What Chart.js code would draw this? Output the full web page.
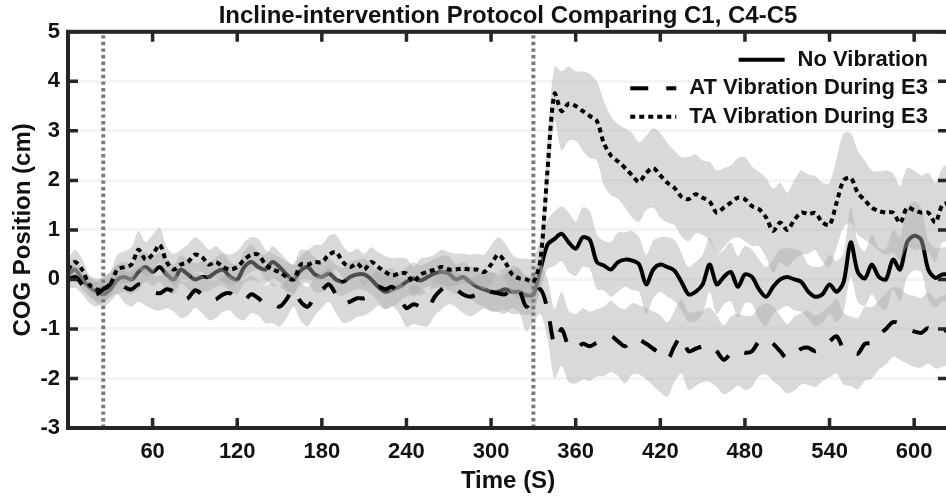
<!DOCTYPE html>
<html>
<head>
<meta charset="utf-8">
<script src="https://cdn.jsdelivr.net/npm/chart.js@4.4.1/dist/chart.umd.min.js"></script>
<style>
  html, body { margin: 0; padding: 0; background: #fff; overflow: hidden; }
  #wrap { width: 946px; height: 496px; overflow: hidden; }
</style>
</head>
<body>
<div id="wrap"><canvas id="cogChart" width="952" height="496"></canvas></div>
<script>
// sample times (s), one every 5 s
const times = [
  0, 5, 10, 15, 20, 25, 30, 35, 40, 45,
  50, 55, 60, 65, 70, 75, 80, 85, 90, 95,
  100, 105, 110, 115, 120, 125, 130, 135, 140, 145,
  150, 155, 160, 165, 170, 175, 180, 185, 190, 195,
  200, 205, 210, 215, 220, 225, 230, 235, 240, 245,
  250, 255, 260, 265, 270, 275, 280, 285, 290, 295,
  300, 305, 310, 315, 320, 325, 330, 335, 340, 345,
  350, 355, 360, 365, 370, 375, 380, 385, 390, 395,
  400, 405, 410, 415, 420, 425, 430, 435, 440, 445,
  450, 455, 460, 465, 470, 475, 480, 485, 490, 495,
  500, 505, 510, 515, 520, 525, 530, 535, 540, 545,
  550, 555, 560, 565, 570, 575, 580, 585, 590, 595,
  600, 605, 610, 615, 620, 625
];

// No Vibration (solid)
const noVibMean = [
  0.1, 0.2, 0.0, -0.15, -0.25, -0.3, -0.2, 0.0, 0.05, 0.0,
  0.15, 0.25, 0.15, 0.25, 0.1, 0.0, 0.2, 0.1, 0.0, 0.05,
  0.05, 0.15, 0.2, 0.05, 0.0, 0.25, 0.35, 0.25, 0.2, 0.35,
  0.25, 0.1, 0.0, 0.18, 0.25, 0.1, 0.05, 0.12, 0.0, -0.05,
  0.05, 0.1, 0.1, 0.0, -0.15, -0.25, -0.2, -0.15, -0.05, 0.02,
  -0.02, 0.05, 0.12, 0.15, 0.12, 0.0, 0.05, -0.05, -0.15, -0.2,
  -0.25, -0.25, -0.2, -0.25, -0.25, -0.32, -0.3, 0.2, 0.7, 0.82,
  0.92, 0.75, 0.62, 0.85, 0.8, 0.35, 0.28, 0.2, 0.35, 0.4,
  0.38, 0.3, -0.1, 0.2, 0.3, 0.25, 0.18, -0.05, -0.3, -0.25,
  -0.1, 0.3, -0.1, 0.05, 0.15, -0.15, 0.1, 0.05, -0.2, -0.35,
  -0.15, 0.0, 0.05, 0.0, -0.05, -0.25, -0.35, -0.3, -0.1, -0.25,
  -0.05, 0.75, 0.15, 0.02, 0.3, 0.05, 0.0, 0.4, 0.2, 0.75,
  0.88, 0.8, 0.2, 0.03, 0.1, 0.1
];
const noVibSem = [
  0.2, 0.22, 0.2, 0.2, 0.22, 0.25, 0.25, 0.3, 0.3, 0.3,
  0.35, 0.3, 0.28, 0.3, 0.32, 0.3, 0.28, 0.3, 0.32, 0.3,
  0.28, 0.3, 0.32, 0.3, 0.3, 0.32, 0.35, 0.3, 0.3, 0.32,
  0.3, 0.3, 0.28, 0.3, 0.32, 0.35, 0.3, 0.3, 0.3, 0.28,
  0.3, 0.3, 0.32, 0.3, 0.3, 0.35, 0.35, 0.3, 0.3, 0.32,
  0.3, 0.28, 0.3, 0.32, 0.35, 0.3, 0.3, 0.32, 0.35, 0.35,
  0.38, 0.4, 0.42, 0.45, 0.45, 0.4, 0.38, 0.4, 0.5, 0.55,
  0.55, 0.6, 0.55, 0.6, 0.58, 0.55, 0.5, 0.55, 0.6, 0.55,
  0.6, 0.55, 0.6, 0.58, 0.55, 0.6, 0.62, 0.58, 0.55, 0.6,
  0.6, 0.55, 0.6, 0.55, 0.6, 0.62, 0.58, 0.55, 0.6, 0.6,
  0.55, 0.6, 0.58, 0.62, 0.6, 0.55, 0.6, 0.58, 0.6, 0.62,
  0.6, 0.7, 0.6, 0.55, 0.6, 0.58, 0.62, 0.6, 0.65, 0.7,
  0.7, 0.65, 0.6, 0.6, 0.55, 0.55
];

// AT Vibration During E3 (dashed)
const atMean = [
  0.0, 0.05, -0.1, -0.25, -0.3, -0.2, -0.1, 0.0, -0.15, -0.2,
  -0.1, -0.15, -0.25, -0.28, -0.2, -0.25, -0.4, -0.38, -0.22, -0.3,
  -0.42, -0.4, -0.3, -0.28, -0.4, -0.42, -0.3, -0.38, -0.5, -0.48,
  -0.55, -0.4, -0.2, -0.45, -0.55, -0.35, -0.22, -0.1, -0.3, -0.48,
  -0.45, -0.38, -0.38, -0.3, -0.15, -0.2, -0.15, -0.35, -0.58, -0.5,
  -0.55, -0.6, -0.35, -0.2, -0.12, -0.2, -0.3, -0.35, -0.3, -0.2,
  -0.25, -0.28, -0.3, -0.15, -0.22, -0.55, -0.35, -0.2, -0.6, -1.3,
  -1.0, -1.35, -1.4, -1.3, -1.35, -1.28, -1.25, -1.15, -1.25, -1.35,
  -1.2, -1.22, -1.3, -1.4, -1.5, -1.62, -1.35, -1.15, -1.45, -1.4,
  -1.35, -1.32, -1.45, -1.62, -1.5, -1.42, -1.48, -1.45, -1.25, -1.2,
  -1.3, -1.45, -1.6, -1.5, -1.4, -1.38, -1.45, -1.35, -1.25, -1.15,
  -1.4, -1.45, -1.5, -1.3, -1.28, -1.12, -1.0, -0.86, -0.9, -1.0,
  -1.05, -1.08, -0.98, -1.1, -1.05, -1.0
];
const atSem = [
  0.2, 0.22, 0.2, 0.22, 0.25, 0.25, 0.25, 0.3, 0.32, 0.35,
  0.35, 0.38, 0.35, 0.35, 0.38, 0.4, 0.38, 0.35, 0.35, 0.38,
  0.4, 0.38, 0.35, 0.35, 0.38, 0.4, 0.38, 0.35, 0.38, 0.4,
  0.4, 0.38, 0.35, 0.38, 0.4, 0.38, 0.35, 0.35, 0.38, 0.4,
  0.4, 0.38, 0.35, 0.35, 0.38, 0.4, 0.38, 0.35, 0.38, 0.4,
  0.38, 0.35, 0.38, 0.4, 0.38, 0.35, 0.38, 0.4, 0.38, 0.38,
  0.4, 0.38, 0.4, 0.42, 0.45, 0.5, 0.5, 0.5, 0.6, 0.7,
  0.75, 0.72, 0.7, 0.72, 0.7, 0.68, 0.7, 0.72, 0.7, 0.75,
  0.72, 0.7, 0.72, 0.75, 0.78, 0.75, 0.72, 0.75, 0.78, 0.75,
  0.72, 0.75, 0.72, 0.7, 0.75, 0.72, 0.75, 0.72, 0.7, 0.72,
  0.75, 0.72, 0.7, 0.75, 0.72, 0.75, 0.72, 0.7, 0.72, 0.75,
  0.72, 0.7, 0.72, 0.75, 0.72, 0.7, 0.72, 0.7, 0.72, 0.7,
  0.72, 0.7, 0.72, 0.7, 0.72, 0.7
];

// TA Vibration During E3 (dotted)
const taMean = [
  0.2, 0.35, 0.2, -0.1, -0.2, -0.2, -0.1, 0.2, 0.25, 0.3,
  0.6, 0.4, 0.5, 0.7, 0.35, 0.2, 0.3, 0.35, 0.5, 0.45,
  0.3, 0.35, 0.25, 0.2, 0.25, 0.4, 0.5, 0.5, 0.3, 0.2,
  0.15, 0.05, 0.0, 0.3, 0.3, 0.35, 0.35, 0.5, 0.55, 0.35,
  0.25, 0.32, 0.2, 0.35, 0.25, 0.15, 0.08, 0.12, 0.12, -0.05,
  0.1, 0.15, 0.2, 0.25, 0.2, 0.2, 0.22, 0.2, 0.2, 0.15,
  0.3, 0.5, 0.35, 0.1, 0.02, 0.0, -0.05, 0.4, 2.2, 3.75,
  3.4, 3.55, 3.5, 3.4, 3.3, 3.2, 2.75, 2.5, 2.38, 2.25,
  2.1, 1.97, 2.15, 2.25, 2.1, 1.95, 1.85, 1.67, 1.62, 1.72,
  1.65, 1.57, 1.35, 1.45, 1.55, 1.65, 1.62, 1.48, 1.42, 1.25,
  0.98, 1.15, 1.0, 1.2, 1.35, 1.32, 1.34, 1.15, 1.1, 1.55,
  2.0, 2.05, 1.75, 1.6, 1.45, 1.38, 1.35, 1.35, 1.14, 1.45,
  1.4, 1.35, 1.35, 1.15, 1.5, 1.55
];
const taSem = [
  0.2, 0.25, 0.22, 0.2, 0.22, 0.25, 0.25, 0.3, 0.32, 0.35,
  0.38, 0.35, 0.4, 0.35, 0.3, 0.32, 0.3, 0.35, 0.35, 0.3,
  0.3, 0.32, 0.3, 0.3, 0.32, 0.35, 0.35, 0.32, 0.3, 0.32,
  0.3, 0.3, 0.32, 0.3, 0.3, 0.35, 0.35, 0.38, 0.35, 0.32,
  0.3, 0.3, 0.32, 0.3, 0.3, 0.32, 0.35, 0.32, 0.3, 0.3,
  0.32, 0.3, 0.3, 0.35, 0.35, 0.32, 0.3, 0.3, 0.32, 0.35,
  0.38, 0.35, 0.38, 0.4, 0.4, 0.42, 0.45, 0.5, 0.6, 0.55,
  0.8, 0.75, 0.7, 0.8, 0.85, 0.8, 0.85, 0.8, 0.75, 0.8,
  0.85, 0.8, 0.75, 0.8, 0.85, 0.8, 0.75, 0.8, 0.85, 0.8,
  0.75, 0.8, 0.85, 0.8, 0.75, 0.8, 0.85, 0.8, 0.75, 0.8,
  0.85, 0.8, 0.75, 0.8, 0.85, 0.8, 0.75, 0.8, 0.85, 0.9,
  0.95, 0.9, 0.85, 0.8, 0.75, 0.8, 0.85, 0.8, 0.75, 0.8,
  0.8, 0.75, 0.8, 0.8, 0.75, 0.8
];

// protocol event markers (s) and axis ticks
const eventTimes = [25, 330];
const xTicks = [60, 120, 180, 240, 300, 360, 420, 480, 540, 600];
const yTicks = [-3, -2, -1, 0, 1, 2, 3, 4, 5];
const seriesLabels = ['No Vibration', 'AT Vibration During E3', 'TA Vibration During E3'];

const X_MIN = 0, X_MAX = 624, Y_MIN = -3, Y_MAX = 5;
const BAND = 'rgba(170,170,170,0.45)';
const INK = '#111';
const TENSION = 0.3;

Chart.defaults.font.family = '"Liberation Sans", Arial, sans-serif';
Chart.defaults.color = INK;

function toPoints(vals) {
  return times.map((t, i) => ({ x: t, y: vals[i] }));
}
function bandPoints(mean, sem, sign) {
  return times.map((t, i) => ({ x: t, y: mean[i] + sign * sem[i] }));
}

function lineSet(label, vals, dash, order) {
  return {
    label: label,
    data: toPoints(vals),
    borderColor: '#000',
    borderWidth: 4,
    borderDash: dash,
    pointRadius: 0,
    tension: TENSION,
    fill: false,
    order: order
  };
}
function bandSet(points, fillTarget, order) {
  return {
    label: '',
    data: points,
    borderColor: 'rgba(0,0,0,0)',
    borderWidth: 0,
    backgroundColor: BAND,
    pointRadius: 0,
    tension: TENSION,
    fill: fillTarget,
    order: order
  };
}
function eventSet(t) {
  return {
    label: '',
    data: [{ x: t, y: Y_MIN }, { x: t, y: Y_MAX }],
    borderColor: '#7a7a7a',
    borderWidth: 4,
    borderDash: [3.4, 3.2],
    pointRadius: 0,
    fill: false,
    order: 2
  };
}

// lower order = drawn on top
const datasets = [
  lineSet(seriesLabels[2], taMean, [5, 4], 0),              // 0
  lineSet(seriesLabels[1], atMean, [18, 18], 1),            // 1
  eventSet(eventTimes[0]),                                  // 2
  eventSet(eventTimes[1]),                                  // 3
  bandSet(bandPoints(taMean, taSem, 1), 5, 3),              // 4
  bandSet(bandPoints(taMean, taSem, -1), false, 3),         // 5
  bandSet(bandPoints(atMean, atSem, 1), 7, 4),              // 6
  bandSet(bandPoints(atMean, atSem, -1), false, 4),         // 7
  lineSet(seriesLabels[0], noVibMean, [], 5),               // 8
  bandSet(bandPoints(noVibMean, noVibSem, 1), 10, 6),       // 9
  bandSet(bandPoints(noVibMean, noVibSem, -1), false, 6)    // 10
];
const legendOrder = [8, 1, 0];

// box frame with inward ticks, like the original axes
const framePlugin = {
  id: 'frame',
  afterDraw(chart) {
    const { ctx, chartArea: a, scales } = chart;
    ctx.save();
    ctx.strokeStyle = '#262626';
    ctx.lineWidth = 4;
    ctx.strokeRect(a.left, a.top, a.right - a.left, a.bottom - a.top);
    ctx.lineWidth = 3.5;
    ctx.beginPath();
    xTicks.forEach(v => {
      const px = scales.x.getPixelForValue(v);
      ctx.moveTo(px, a.bottom); ctx.lineTo(px, a.bottom - 10);
      ctx.moveTo(px, a.top); ctx.lineTo(px, a.top + 10);
    });
    yTicks.forEach(v => {
      const py = scales.y.getPixelForValue(v);
      ctx.moveTo(a.left, py); ctx.lineTo(a.left + 10, py);
      ctx.moveTo(a.right, py); ctx.lineTo(a.right - 10, py);
    });
    ctx.stroke();
    ctx.restore();
  }
};

// right-aligned legend inside the plot
const legendPlugin = {
  id: 'insideLegend',
  afterDraw(chart) {
    const { ctx, chartArea: a } = chart;
    const textRight = a.right - 20;
    const rowTop = a.top + 28;
    const rowGap = 28.5;
    ctx.save();
    ctx.font = 'bold 22px "Liberation Sans", Arial, sans-serif';
    ctx.textAlign = 'right';
    ctx.textBaseline = 'middle';
    legendOrder.forEach((idx, row) => {
      const ds = chart.data.datasets[idx];
      const y = rowTop + row * rowGap;
      const w = ctx.measureText(ds.label).width;
      const symEnd = textRight - w - 13;
      ctx.fillStyle = INK;
      ctx.fillText(ds.label, textRight, y);
      ctx.beginPath();
      ctx.setLineDash(ds.borderDash || []);
      ctx.strokeStyle = '#000';
      ctx.lineWidth = 4;
      ctx.moveTo(symEnd - 46, y);
      ctx.lineTo(symEnd, y);
      ctx.stroke();
    });
    ctx.restore();
  }
};

const ctx = document.getElementById('cogChart').getContext('2d');
const chart = new Chart(ctx, {
  type: 'line',
  data: { datasets: datasets },
  options: {
    responsive: false,
    animation: false,
    events: [],
    layout: { padding: { top: 0, right: 4, bottom: 0, left: 0 } },
    plugins: {
      legend: { display: false },
      tooltip: { enabled: false },
      title: {
        display: true,
        fullSize: false,
        text: 'Incline-intervention Protocol Comparing C1, C4-C5',
        color: INK,
        font: { size: 24, weight: 'bold', lineHeight: 1.2 },
        padding: { top: 2, bottom: 1 }
      }
    },
    scales: {
      x: {
        type: 'linear',
        min: X_MIN,
        max: X_MAX,
        afterBuildTicks: s => { s.ticks = xTicks.map(v => ({ value: v })); },
        afterFit: s => { s.height = 68; },
        grid: { display: false, drawTicks: false },
        border: { display: false },
        ticks: { font: { size: 22, weight: 'bold' }, color: INK, padding: 11, maxRotation: 0 },
        title: {
          display: true,
          text: 'Time (S)',
          color: INK,
          font: { size: 24, weight: 'bold', lineHeight: 1.2 },
          padding: { top: 0, bottom: 0 }
        }
      },
      y: {
        type: 'linear',
        min: Y_MIN,
        max: Y_MAX,
        z: 1,
        afterBuildTicks: s => { s.ticks = yTicks.map(v => ({ value: v })); },
        afterFit: s => { s.width = 68; },
        grid: { color: 'rgba(0,0,0,0.045)', lineWidth: 3, drawTicks: false },
        border: { display: false },
        ticks: { font: { size: 22, weight: 'bold' }, color: INK, padding: 8 },
        title: {
          display: true,
          text: 'COG Position (cm)',
          color: INK,
          font: { size: 24, weight: 'bold', lineHeight: 1.2 },
          padding: { top: 9, bottom: 0 }
        }
      }
    }
  },
  plugins: [framePlugin, legendPlugin]
});
</script>
</body>
</html>
